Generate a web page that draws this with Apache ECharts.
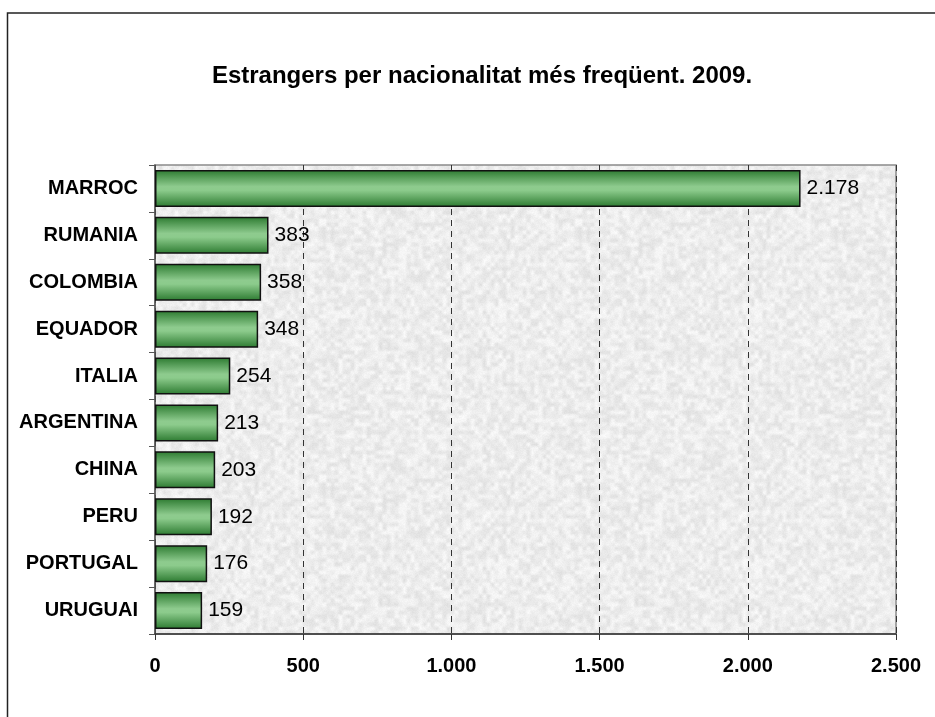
<!DOCTYPE html>
<html>
<head>
<meta charset="utf-8">
<script src="https://cdn.jsdelivr.net/npm/echarts@6/dist/echarts.min.js"></script>
<style>
html,body{margin:0;padding:0;background:#fff;}
#chart{width:935px;height:717px;}
</style>
</head>
<body>
<div id="chart"></div>
<script>
const titleText = 'Estrangers per nacionalitat més freqüent. 2009.';
const categories = ['MARROC','RUMANIA','COLOMBIA','EQUADOR','ITALIA','ARGENTINA','CHINA','PERU','PORTUGAL','URUGUAI'];
const values = [2178, 383, 358, 348, 254, 213, 203, 192, 176, 159];
const xTicks = [0, 500, 1000, 1500, 2000, 2500];

function fmt(v){
  return String(v).replace(/\B(?=(\d{3})+(?!\d))/g, '.');
}

// deterministic granite-like texture for the plot background
function makeTexture(){
  const N = 256, cell = 4, G = N / cell;
  const c = document.createElement('canvas');
  c.width = N; c.height = N;
  const ctx = c.getContext('2d');
  const img = ctx.createImageData(N, N);
  function h(x, y){
    x = ((x % G) + G) % G; y = ((y % G) + G) % G;
    let n = Math.imul(x, 374761393) ^ Math.imul(y, 668265263) ^ 0x5bd1e995;
    n = Math.imul(n ^ (n >>> 13), 1274126177);
    n = n ^ (n >>> 16);
    return ((n >>> 0) % 1000) / 1000;
  }
  function h2(x, y){
    let n = Math.imul(x + 17, 2246822519) ^ Math.imul(y + 91, 3266489917);
    n = Math.imul(n ^ (n >>> 15), 2654435761);
    n = n ^ (n >>> 13);
    return ((n >>> 0) % 1000) / 1000;
  }
  for (let y = 0; y < N; y++){
    for (let x = 0; x < N; x++){
      const gx = x / cell, gy = y / cell;
      const x0 = Math.floor(gx), y0 = Math.floor(gy);
      const fx = gx - x0, fy = gy - y0;
      const sx = fx * fx * (3 - 2 * fx), sy = fy * fy * (3 - 2 * fy);
      const a = h(x0, y0), b = h(x0 + 1, y0), cc = h(x0, y0 + 1), d = h(x0 + 1, y0 + 1);
      const v = (a * (1 - sx) + b * sx) * (1 - sy) + (cc * (1 - sx) + d * sx) * sy;
      const fine = h2(x, y);
      const g = Math.round(221 + v * 24 + fine * 7);
      const i = (y * N + x) * 4;
      img.data[i] = g; img.data[i + 1] = g; img.data[i + 2] = g; img.data[i + 3] = 255;
    }
  }
  ctx.putImageData(img, 0, 0);
  return c;
}

const chart = echarts.init(document.getElementById('chart'), null, {renderer:'canvas'});
const font = 'Arial, "Liberation Sans", sans-serif';
chart.setOption({
  animation:false,
  backgroundColor:'#ffffff',
  title:{
    text:titleText,
    left:477, top:59, textAlign:'center',
    textStyle:{fontFamily:font, fontSize:24, fontWeight:'bold', color:'#000'}
  },
  graphic:[{
    type:'rect', silent:true, z:-1,
    shape:{x:7.5, y:13, width:1000, height:1000},
    style:{fill:'none', stroke:'#222', lineWidth:1.5}
  }],
  grid:{
    left:155, right:39, top:165, bottom:83,
    show:true, backgroundColor:{image:makeTexture(), repeat:'repeat'},
    borderColor:'#8a8a8a', borderWidth:1.5
  },
  xAxis:{
    type:'value', min:xTicks[0], max:xTicks[xTicks.length-1], interval:500,
    axisLine:{show:true, lineStyle:{color:'#333', width:1.5}},
    axisTick:{show:true, length:6, lineStyle:{color:'#333'}},
    splitLine:{show:true, lineStyle:{color:'#333', type:[6,5], width:1}},
    axisLabel:{fontFamily:font, fontSize:20, fontWeight:'bold', color:'#000', margin:22,
      formatter:v=>fmt(v), showMaxLabel:true}
  },
  yAxis:{
    type:'category', data:categories, inverse:true,
    axisLine:{show:true, lineStyle:{color:'#555', width:1.5}},
    axisTick:{show:true, length:6, lineStyle:{color:'#555'}},
    axisLabel:{fontFamily:font, fontSize:20, fontWeight:'bold', color:'#000', margin:17}
  },
  series:[{
    type:'bar', data:values, barWidth:37,
    itemStyle:{
      borderColor:'#111', borderWidth:1.5,
      color:new echarts.graphic.LinearGradient(0,0,0,1,[
        {offset:0, color:'#2c7a30'},
        {offset:0.45, color:'#8ecb8e'},
        {offset:0.55, color:'#8ccb8c'},
        {offset:1, color:'#2c7a30'}
      ])
    },
    label:{show:true, position:'right', distance:6, fontFamily:font, fontSize:21,
      color:'#000', formatter:p=>fmt(p.value)}
  }]
});
</script>
</body>
</html>
